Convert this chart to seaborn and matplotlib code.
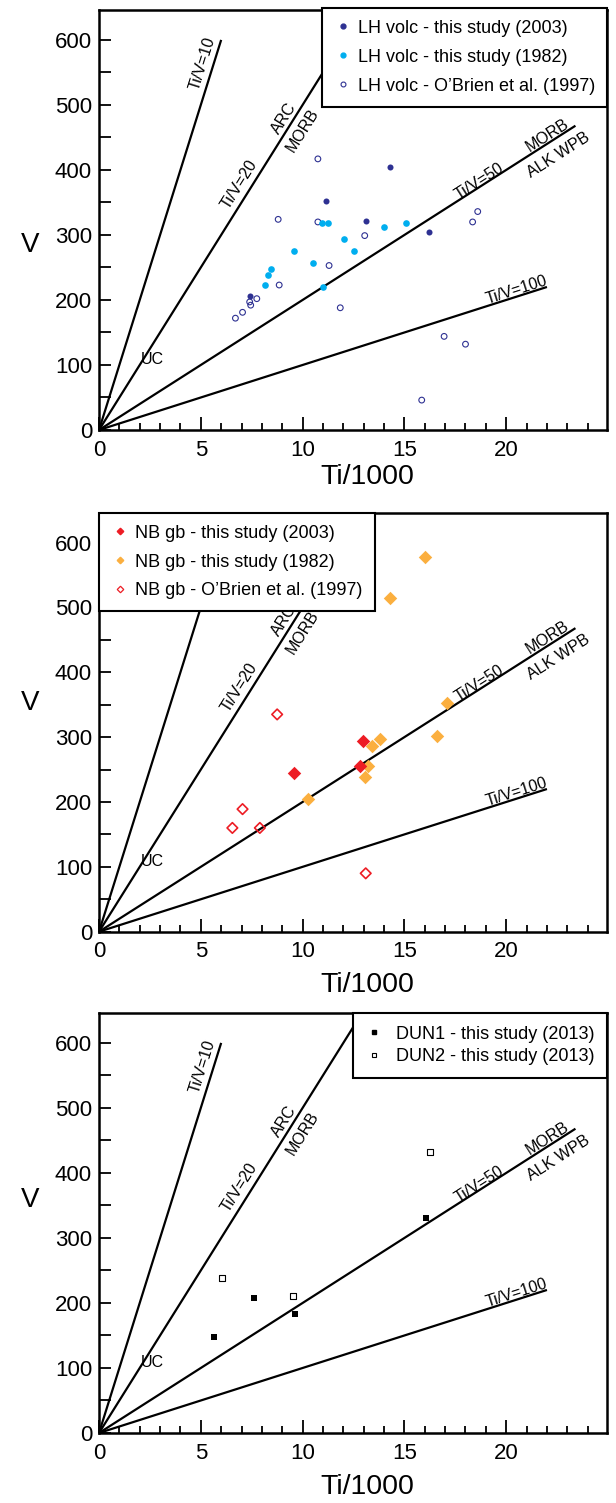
import numpy as np
import pandas as pd
import matplotlib
matplotlib.use("Agg")
import matplotlib.pyplot as plt
from matplotlib.lines import Line2D
from matplotlib.ticker import MultipleLocator
import seaborn as sns

# ---------------- data ----------------
# Panel 1: LH volcanics
lh2003_ti = [11.15, 14.3, 13.1, 16.2, 7.4]
lh2003_v = [352, 404, 322, 304, 206]
lh1982_ti = [10.95, 11.25, 14.0, 15.1, 12.05, 9.6, 12.5, 10.5, 8.45, 8.3, 8.15, 11.0]
lh1982_v = [318, 318, 313, 318, 294, 276, 276, 257, 248, 239, 223, 220]
lhob_ti = [10.75, 8.8, 10.75, 18.6, 18.35, 13.05, 11.3, 8.85, 7.4, 7.75, 7.45,
           7.05, 6.7, 11.85, 16.95, 18.0, 15.85]
lhob_v = [417, 324, 320, 336, 320, 299, 253, 223, 197, 202, 192, 181, 172, 188,
          144, 132, 46]

# Panel 2: NB gabbros
nb2003_ti = [12.95, 9.6, 12.8]
nb2003_v = [294, 245, 255]
nb1982_ti = [16.0, 14.3, 17.1, 16.6, 13.8, 13.4, 13.2, 13.05, 10.25]
nb1982_v = [578, 515, 352, 301, 297, 286, 256, 238, 205]
nbob_ti = [8.75, 7.05, 6.55, 7.9, 13.1]
nbob_v = [335, 189, 160, 160, 90]

# Panel 3: DUN
dun1_ti = [16.05, 7.6, 9.65, 5.65]
dun1_v = [330, 207, 183, 148]
dun2_ti = [16.25, 6.05, 9.55]
dun2_v = [432, 238, 210]

# Ti/V reference lines
ratios = [10, 20, 50, 100]
ratio_xend = [6, 12.5, 23.4, 22]

# field labels: text, x, V, ratio of the line they follow (None = no rotation)
field_labels = ["Ti/V=10", "Ti/V=20", "ARC", "MORB", "Ti/V=50", "MORB", "ALK WPB", "Ti/V=100", "UC"]
field_x = [5.08, 6.89, 9.1, 10.0, 18.7, 22.05, 22.55, 20.5, 2.62]
field_v = [564, 377, 480, 461, 382, 454, 423, 215, 108]
field_ratio = [10, 20, 20, 20, 50, 50, 50, 100, None]

NAVY = "#2E3192"
CYAN = "#00AEEF"
RED = "#ED1C24"
ORANGE = "#FBAF3F"

sns.set_theme(style="white")
plt.rcParams['font.family'] = ['Liberation Sans', 'DejaVu Sans']
plt.rcParams.update({
    "axes.edgecolor": "black", "text.color": "black", "axes.labelcolor": "black",
    "xtick.color": "black", "ytick.color": "black",
})

fig = plt.figure(figsize=(6.16, 15.03), dpi=100)

H = 1503.0
W = 616.0
LEFT, RIGHT = 99, 607


def make_axes(top_px, bottom_px, left_px=LEFT, right_px=RIGHT):
    return fig.add_axes([left_px / W, 1 - bottom_px / H,
                         (right_px - left_px) / W, (bottom_px - top_px) / H])


def base(ax, ylab_y, xlab_y):
    ax.set_xlim(0, 24.95)
    ax.set_ylim(0, 646)
    for s in ax.spines.values():
        s.set_linewidth(1.8)
        s.set_color("black")
    # reference lines
    for r, xe in zip(ratios, ratio_xend):
        xs = np.array([0.0, xe])
        ax.plot(xs, xs * 1000.0 / r, color="black", lw=1.6, zorder=2,
                solid_capstyle="butt")
    # field labels
    for t, x, v, r in zip(field_labels, field_x, field_v, field_ratio):
        if r is None:
            ax.text(x, v, t, fontsize=11.5, ha="center", va="center")
        else:
            ang = np.degrees(np.arctan(1000.0 / r))
            ax.text(x, v, t, fontsize=11.5, ha="center", va="center",
                    rotation=ang, rotation_mode="anchor",
                    transform_rotates_text=True)
    ax.xaxis.set_major_locator(MultipleLocator(5))
    ax.xaxis.set_minor_locator(MultipleLocator(1))
    ax.yaxis.set_major_locator(MultipleLocator(100))
    ax.yaxis.set_minor_locator(MultipleLocator(50))
    ax.tick_params(axis="x", which="major", direction="in", length=9.5, width=1.3,
                   labelsize=16, pad=7, bottom=True, top=False)
    ax.tick_params(axis="x", which="minor", direction="in", length=5, width=1.3,
                   bottom=True, top=False)
    ax.tick_params(axis="y", which="both", direction="in", length=8.6, width=1.3,
                   labelsize=16, pad=5, left=True, right=False)
    ax.set_xlabel("Ti/1000", fontsize=20.5, va="center")
    ax.set_ylabel("V", fontsize=20, rotation=0, va="center", ha="center")
    ax.xaxis.set_label_coords((367 - LEFT) / (RIGHT - LEFT), xlab_y)
    ax.yaxis.set_label_coords(-(LEFT - 30) / (RIGHT - LEFT), ylab_y)


def scat(ax, x, y, marker, s, face, edge, lw):
    df = pd.DataFrame({"Ti": x, "V": y})
    if face == "none":
        sns.scatterplot(data=df, x="Ti", y="V", ax=ax, marker=marker, s=s,
                        facecolor="none", edgecolor=edge, linewidth=lw, zorder=3)
    else:
        sns.scatterplot(data=df, x="Ti", y="V", ax=ax, marker=marker, s=s,
                        color=face, edgecolor=edge, linewidth=lw, zorder=3)


def legend(ax, handles, labels, loc, anchor, ls, bp, htp):
    leg = ax.legend(handles, labels, loc=loc, bbox_to_anchor=anchor,
                    borderaxespad=0, frameon=True, fancybox=False,
                    framealpha=1, edgecolor="black", fontsize=13.0,
                    handlelength=1.0, handletextpad=htp, borderpad=bp,
                    labelspacing=ls)
    leg.get_frame().set_linewidth(1.5)
    leg.set_zorder(5)
    return leg


# ---------------- panel 1 ----------------
ax1 = make_axes(10, 430)
base(ax1, 0.44, -(477 - 430) / 420)
scat(ax1, lhob_ti, lhob_v, "o", 17, "none", NAVY, 0.8)
scat(ax1, lh1982_ti, lh1982_v, "o", 23, CYAN, CYAN, 0)
scat(ax1, lh2003_ti, lh2003_v, "o", 19, NAVY, NAVY, 0)
h1 = [Line2D([], [], ls="", marker="o", ms=3.5, color=NAVY, mec=NAVY),
      Line2D([], [], ls="", marker="o", ms=3.5, color=CYAN, mec=CYAN),
      Line2D([], [], ls="", marker="o", ms=3.5, mfc="none", mec=NAVY, mew=0.8)]
legend(ax1, h1, ["LH volc - this study (2003)", "LH volc - this study (1982)",
                 "LH volc - O\u2019Brien et al. (1997)"],
       "upper right", (1.0, 1.005), 0.66, 0.66, 0.3)

# ---------------- panel 2 ----------------
ax2 = make_axes(512.7, 931.7)
base(ax2, 0.546, -(985 - 931.7) / 419)
scat(ax2, nbob_ti, nbob_v, "D", 29, "none", RED, 1.2)
scat(ax2, nb1982_ti, nb1982_v, "D", 47, ORANGE, ORANGE, 0)
scat(ax2, nb2003_ti, nb2003_v, "D", 47, RED, RED, 0)
h2 = [Line2D([], [], ls="", marker="D", ms=3.3, color=RED, mec=RED),
      Line2D([], [], ls="", marker="D", ms=3.3, color=ORANGE, mec=ORANGE),
      Line2D([], [], ls="", marker="D", ms=3.3, mfc="none", mec=RED, mew=0.9)]
legend(ax2, h2, ["NB gb - this study (2003)", "NB gb - this study (1982)",
                 "NB gb - O\u2019Brien et al. (1997)"],
       "upper left", (0.0, 1.0), 0.66, 0.66, 0.35)

# ---------------- panel 3 ----------------
ax3 = make_axes(1013, 1433)
base(ax3, 0.555, -(1487 - 1433) / 420)
scat(ax3, dun1_ti, dun1_v, "s", 25, "black", "black", 0)
scat(ax3, dun2_ti, dun2_v, "s", 19, "none", "black", 0.8)
h3 = [Line2D([], [], ls="", marker="s", ms=3.5, color="black", mec="black"),
      Line2D([], [], ls="", marker="s", ms=3.5, mfc="none", mec="black", mew=0.8)]
legend(ax3, h3, ["DUN1 - this study (2013)", "DUN2 - this study (2013)"],
       "upper right", (1.0, 1.0), 0.32, 0.7, 0.7)

fig.savefig("out.png", dpi=100)
